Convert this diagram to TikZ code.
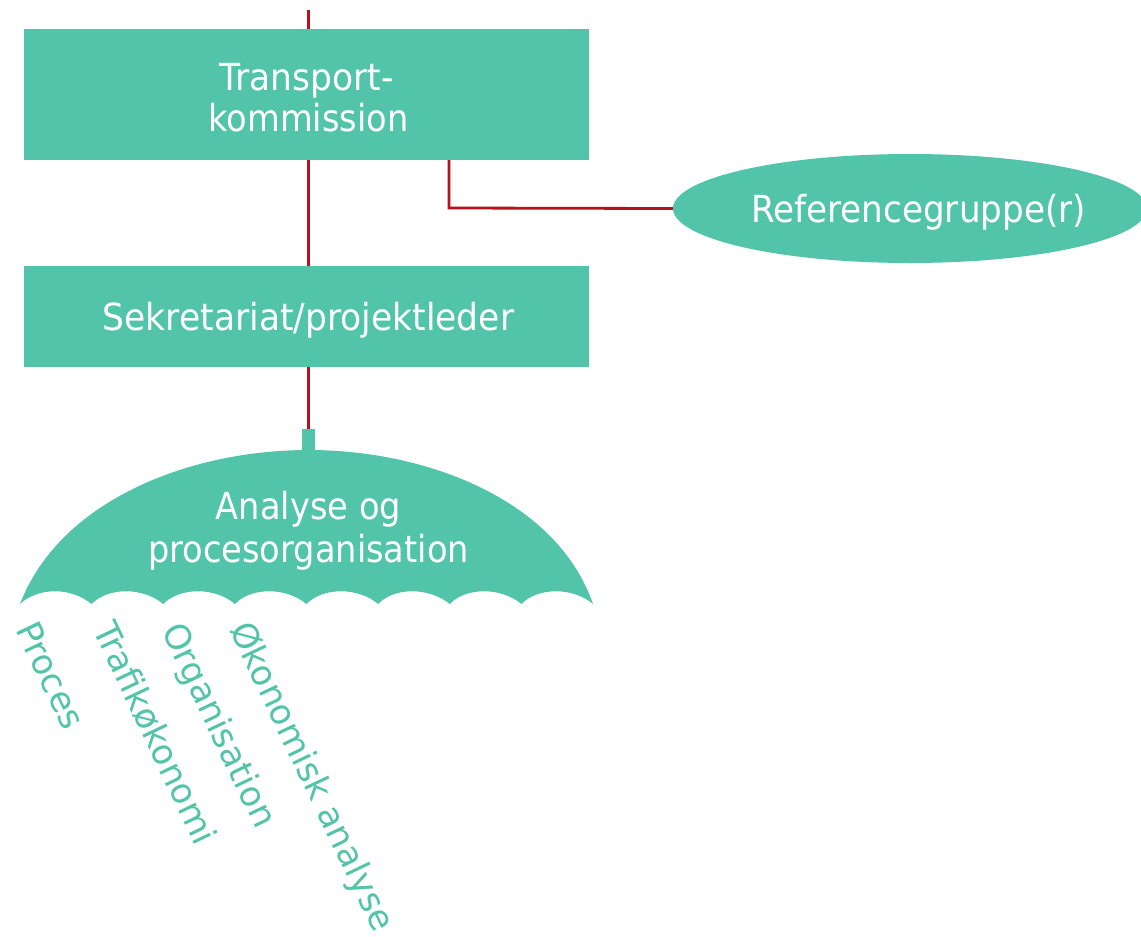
\documentclass[tikz,border=0pt]{standalone}
\usepackage{graphicx}
\usepackage{fontspec}
\setmainfont{DejaVu Sans}
\usetikzlibrary{shapes.geometric}
\definecolor{teal1}{HTML}{52C4A9}
\definecolor{red1}{HTML}{B5121B}
% text line: #1 drop below the node centre, #2 horizontal scale, #3 text
\newcommand{\txtline}[3]{\raisebox{-#1pt}[16pt][16pt]{\scalebox{#2}[1.08]{#3}}}
\tikzset{
  box/.style={fill=teal1,draw=none,inner sep=0pt,text=white,align=center,font=\fontsize{34.5}{41}\selectfont},
  link/.style={draw=red1,line width=2.8pt},
  rib/.style={text=teal1,inner sep=0pt,anchor=base west,rotate=-64.5,font=\fontsize{34.7}{40}\selectfont}
}
\begin{document}
\begin{tikzpicture}[x=1pt,y=-1pt]
\useasboundingbox (0,0) rectangle (1141,937);
\fill[white] (0,0) rectangle (1141,937);
\coordinate (top) at (308.5,10);
\coordinate (elbow) at (449,208);
\node[box,minimum width=565pt,minimum height=131pt] (tk) at (306.5,94.5) {\txtline{16}{1}{Transport-}\\\txtline{16}{.975}{\kern 4pt kommission}};
\node[box,minimum width=565pt,minimum height=101pt] (sek) at (306.5,316.5) {\txtline{13.5}{1}{\kern 4pt Sekretariat/projektleder}};
\begin{scope}
\clip (0,0) rectangle (1141,937);
\node[fill=teal1,draw=none,inner sep=0pt,ellipse,minimum width=474pt,minimum height=109pt] (ref) at (910,208.5) {};
\end{scope}
\node[box,fill=none] (reftext) at (918.5,208.5) {\txtline{13.5}{.99}{Referencegruppe(r)}};
\node[fill=teal1,draw=none,inner sep=0pt,minimum width=13pt,minimum height=24pt] (stem) at (308.5,441) {};
\fill[teal1] (20,604) .. controls (60,500) and (190,450) .. (308.5,450) .. controls (427,450) and (557,500) .. (593,604)
  .. controls (573,587) and (538,587) .. (521.4,604)
  .. controls (501,587) and (466,587) .. (449.8,604)
  .. controls (429,587) and (394,587) .. (378.2,604)
  .. controls (358,587) and (323,587) .. (306.5,604)
  .. controls (286,587) and (251,587) .. (234.9,604)
  .. controls (215,587) and (180,587) .. (163.2,604)
  .. controls (143,587) and (108,587) .. (91.6,604)
  .. controls (71,587) and (38,587) .. (20,604) -- cycle;
\node[box,fill=none,font=\fontsize{34.5}{43}\selectfont] (umb) at (308.5,530) {\txtline{10.5}{.975}{Analyse og}\\\txtline{10.5}{.975}{procesorganisation}};
\node[rib] (p) at (15,629) {Proces};
\node[rib] (t) at (92,629) {Trafikøkonomi};
\node[rib] (o) at (161,630) {Organisation};
\node[rib] (oe) at (229,629) {Økonomisk analyse};
\draw[link] (top) -- (tk.north -| top);
\draw[link] (tk.south -| top) -- (sek.north -| top);
\draw[link] (sek.south -| top) -- (stem.north);
\draw[link] (tk.south -| elbow) -- (elbow) -- (ref.west);
\end{tikzpicture}
\end{document}
